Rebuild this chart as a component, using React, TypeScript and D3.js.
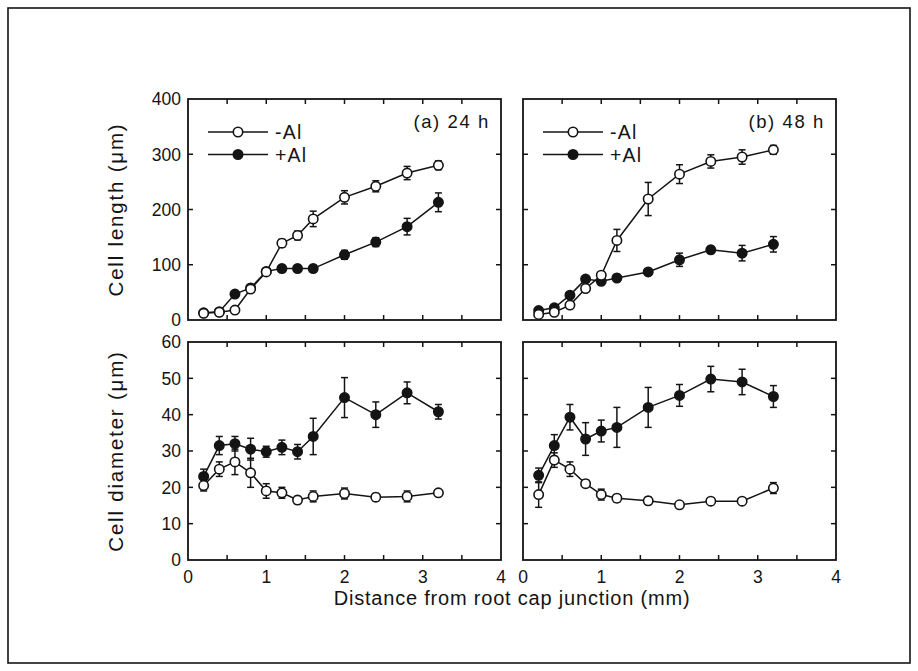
import React from "react";
import * as d3 from "d3";

// ---------- data ----------
const lenA_x = [0.2, 0.4, 0.6, 0.8, 1.0, 1.2, 1.4, 1.6, 2.0, 2.4, 2.8, 3.2];
const lenA_minus = [12, 14, 18, 56, 87, 139, 153, 183, 222, 242, 266, 280];
const lenA_minusErr = [2, 2, 3, 5, 5, 7, 8, 14, 12, 10, 12, 8];
const lenA_plus = [13, 15, 47, 58, 88, 93, 93, 93, 118, 141, 169, 213];
const lenA_plusErr = [2, 2, 4, 5, 5, 6, 6, 6, 8, 8, 15, 17];

const lenB_x = [0.2, 0.4, 0.6, 0.8, 1.0, 1.2, 1.6, 2.0, 2.4, 2.8, 3.2];
const lenB_minus = [10, 14, 27, 57, 81, 144, 219, 264, 287, 295, 308];
const lenB_minusErr = [3, 3, 4, 6, 5, 20, 30, 17, 12, 13, 8];
const lenB_plus = [17, 22, 45, 74, 70, 76, 87, 109, 127, 121, 137];
const lenB_plusErr = [3, 3, 4, 5, 4, 5, 5, 12, 6, 14, 14];

const diaA_x = [0.2, 0.4, 0.6, 0.8, 1.0, 1.2, 1.4, 1.6, 2.0, 2.4, 2.8, 3.2];
const diaA_minus = [20.5, 25, 27, 24, 19, 18.5, 16.5, 17.5, 18.3, 17.3, 17.5, 18.5];
const diaA_minusErr = [1.5, 2, 3.5, 4, 2, 1.5, 1, 1.5, 1.5, 1, 1.5, 0.5];
const diaA_plus = [23, 31.5, 32, 30.5, 29.8, 31, 29.8, 34, 44.7, 40, 46, 40.8];
const diaA_plusErr = [2, 2.5, 2, 3, 1.5, 2, 2, 5, 5.5, 3.5, 3, 2];

const diaB_x = [0.2, 0.4, 0.6, 0.8, 1.0, 1.2, 1.6, 2.0, 2.4, 2.8, 3.2];
const diaB_minus = [18, 27.5, 25, 21, 18, 17, 16.3, 15.2, 16.2, 16.2, 19.8];
const diaB_minusErr = [3.5, 2, 2, 1, 1.5, 1, 1, 0.5, 0.5, 0.5, 1.5];
const diaB_plus = [23.3, 31.5, 39.3, 33.3, 35.5, 36.5, 42, 45.3, 49.8, 49, 45];
const diaB_plusErr = [2, 3, 3.5, 4.5, 3, 5.5, 5.5, 3, 3.5, 3.5, 3];

const xTickLabels = [0, 1, 2, 3, 4];
const xMinorTicks = [0.5, 1, 1.5, 2, 2.5, 3, 3.5];
const lenTicks = [0, 100, 200, 300, 400];
const diaTicks = [0, 10, 20, 30, 40, 50, 60];
const seriesNames = ["-Al", "+Al"];
const panelTags = ["(a) 24 h", "(b) 48 h"];
const yTitles = ["Cell length  (\u03bcm)", "Cell diameter  (\u03bcm)"];
const xTitle = "Distance from root cap junction (mm)";

// ---------- layout ----------
const FONT = "'Liberation Sans', Arial, Helvetica, sans-serif";
const colL = [188, 501];
const colR = [523, 836];
const rowT = [99, 320];
const rowB = [342, 560];
const R = 4.7;
const INK = "#141414";

type Series = { x: number[]; y: number[]; e: number[]; filled: boolean };

function Panel(props: {
  xr: number[];
  yr: number[];
  yDomain: [number, number];
  yTicks: number[];
  showY: boolean;
  showX: boolean;
  series: Series[];
  tag?: string;
  legend?: boolean;
}) {
  const { xr, yr, yDomain, yTicks, showY, showX, series, tag, legend } = props;
  const x = d3.scaleLinear().domain([0, 4]).range([xr[0], xr[1]]);
  const y = d3.scaleLinear().domain(yDomain).range([yr[1], yr[0]]);
  const line = d3
    .line<[number, number]>()
    .x((d) => x(d[0]))
    .y((d) => y(d[1]));
  const tl = 5;
  return (
    <g>
      {series.map((s, si) => (
        <g key={si}>
          <path
            d={line(s.x.map((v, i) => [v, s.y[i]] as [number, number])) || ""}
            fill="none"
            stroke={INK}
            strokeWidth={1.5}
          />
          {s.x.map((v, i) => {
            const cx = x(v);
            const yt = y(s.y[i] + s.e[i]);
            const yb = y(s.y[i] - s.e[i]);
            return (
              <g key={i} stroke={INK} strokeWidth={1.5}>
                <line x1={cx} x2={cx} y1={yt} y2={yb} />
                <line x1={cx - 3.5} x2={cx + 3.5} y1={yt} y2={yt} />
                <line x1={cx - 3.5} x2={cx + 3.5} y1={yb} y2={yb} />
              </g>
            );
          })}
          {s.x.map((v, i) => (
            <circle
              key={"c" + i}
              cx={x(v)}
              cy={y(s.y[i])}
              r={R}
              fill={s.filled ? INK : "#fff"}
              stroke={INK}
              strokeWidth={1.6}
            />
          ))}
        </g>
      ))}
      <rect
        x={xr[0]}
        y={yr[0]}
        width={xr[1] - xr[0]}
        height={yr[1] - yr[0]}
        fill="none"
        stroke={INK}
        strokeWidth={1.8}
      />
      {xMinorTicks.map((t) => (
        <g key={"xt" + t} stroke={INK} strokeWidth={1.5}>
          <line x1={x(t)} x2={x(t)} y1={yr[1]} y2={yr[1] - tl} />
          <line x1={x(t)} x2={x(t)} y1={yr[0]} y2={yr[0] + tl} />
        </g>
      ))}
      {yTicks.slice(1, -1).map((t) => (
        <g key={"yt" + t} stroke={INK} strokeWidth={1.5}>
          <line x1={xr[0]} x2={xr[0] + tl} y1={y(t)} y2={y(t)} />
          <line x1={xr[1]} x2={xr[1] - tl} y1={y(t)} y2={y(t)} />
        </g>
      ))}
      {showY &&
        yTicks.map((t) => (
          <text
            key={"yl" + t}
            x={xr[0] - 7}
            y={y(t)}
            dy="0.36em"
            textAnchor="end"
            fontSize={17.5}
            fontFamily={FONT}
            fill={INK}
          >
            {t}
          </text>
        ))}
      {showX &&
        xTickLabels.map((t) => (
          <text
            key={"xl" + t}
            x={x(t)}
            y={yr[1] + 23}
            textAnchor="middle"
            fontSize={17.5}
            fontFamily={FONT}
            fill={INK}
          >
            {t}
          </text>
        ))}
      {tag && (
        <text
          x={xr[1] - 11}
          y={yr[0] + 29}
          textAnchor="end"
          fontSize={18.5}
          fontFamily={FONT}
          fill={INK}
          letterSpacing={1.6}
        >
          {tag}
        </text>
      )}
      {legend &&
        series
          .slice()
          .reverse()
          .map((s, i) => {
            const ly = yr[0] + 33 + i * 22.5;
            const lx0 = xr[0] + 20;
            const lx1 = lx0 + 60;
            return (
              <g key={"lg" + i}>
                <line x1={lx0} x2={lx1} y1={ly} y2={ly} stroke={INK} strokeWidth={1.5} />
                <circle
                  cx={(lx0 + lx1) / 2}
                  cy={ly}
                  r={R}
                  fill={s.filled ? INK : "#fff"}
                  stroke={INK}
                  strokeWidth={1.6}
                />
                <text
                  x={lx1 + 7}
                  y={ly}
                  dy="0.36em"
                  fontSize={19.5}
                  fontFamily={FONT}
                  fill={INK}
                  letterSpacing={1.2}
                >
                  {seriesNames[i]}
                </text>
              </g>
            );
          })}
    </g>
  );
}

function mk(x: number[], y: number[], e: number[], filled: boolean): Series {
  return { x, y, e, filled };
}

export default function App() {
  return (
    <svg
      width={918}
      height={671}
      style={{ position: "absolute", left: 0, top: 0, background: "#fff" }}
    >
      <rect x={0} y={0} width={918} height={671} fill="#fff" />
      <rect x={8} y={8} width={902} height={655} fill="none" stroke={INK} strokeWidth={1.6} />
      <Panel
        xr={colL}
        yr={rowT}
        yDomain={[0, 400]}
        yTicks={lenTicks}
        showY={true}
        showX={false}
        tag={panelTags[0]}
        legend={true}
        series={[
          mk(lenA_x, lenA_plus, lenA_plusErr, true),
          mk(lenA_x, lenA_minus, lenA_minusErr, false),
        ]}
      />
      <Panel
        xr={colR}
        yr={rowT}
        yDomain={[0, 400]}
        yTicks={lenTicks}
        showY={false}
        showX={false}
        tag={panelTags[1]}
        legend={true}
        series={[
          mk(lenB_x, lenB_plus, lenB_plusErr, true),
          mk(lenB_x, lenB_minus, lenB_minusErr, false),
        ]}
      />
      <Panel
        xr={colL}
        yr={rowB}
        yDomain={[0, 60]}
        yTicks={diaTicks}
        showY={true}
        showX={true}
        series={[
          mk(diaA_x, diaA_plus, diaA_plusErr, true),
          mk(diaA_x, diaA_minus, diaA_minusErr, false),
        ]}
      />
      <Panel
        xr={colR}
        yr={rowB}
        yDomain={[0, 60]}
        yTicks={diaTicks}
        showY={false}
        showX={true}
        series={[
          mk(diaB_x, diaB_plus, diaB_plusErr, true),
          mk(diaB_x, diaB_minus, diaB_minusErr, false),
        ]}
      />
      <text
        transform={`translate(123, ${(rowT[0] + rowT[1]) / 2}) rotate(-90)`}
        textAnchor="middle"
        fontSize={20.5}
        fontFamily={FONT}
        fill={INK}
        letterSpacing={1.8}
      >
        {yTitles[0]}
      </text>
      <text
        transform={`translate(123, ${(rowB[0] + rowB[1]) / 2}) rotate(-90)`}
        textAnchor="middle"
        fontSize={20.5}
        fontFamily={FONT}
        fill={INK}
        letterSpacing={1.8}
      >
        {yTitles[1]}
      </text>
      <text
        x={(colL[0] + colR[1]) / 2}
        y={rowB[1] + 45}
        textAnchor="middle"
        fontSize={20}
        fontFamily={FONT}
        fill={INK}
        letterSpacing={0.8}
      >
        {xTitle}
      </text>
    </svg>
  );
}
